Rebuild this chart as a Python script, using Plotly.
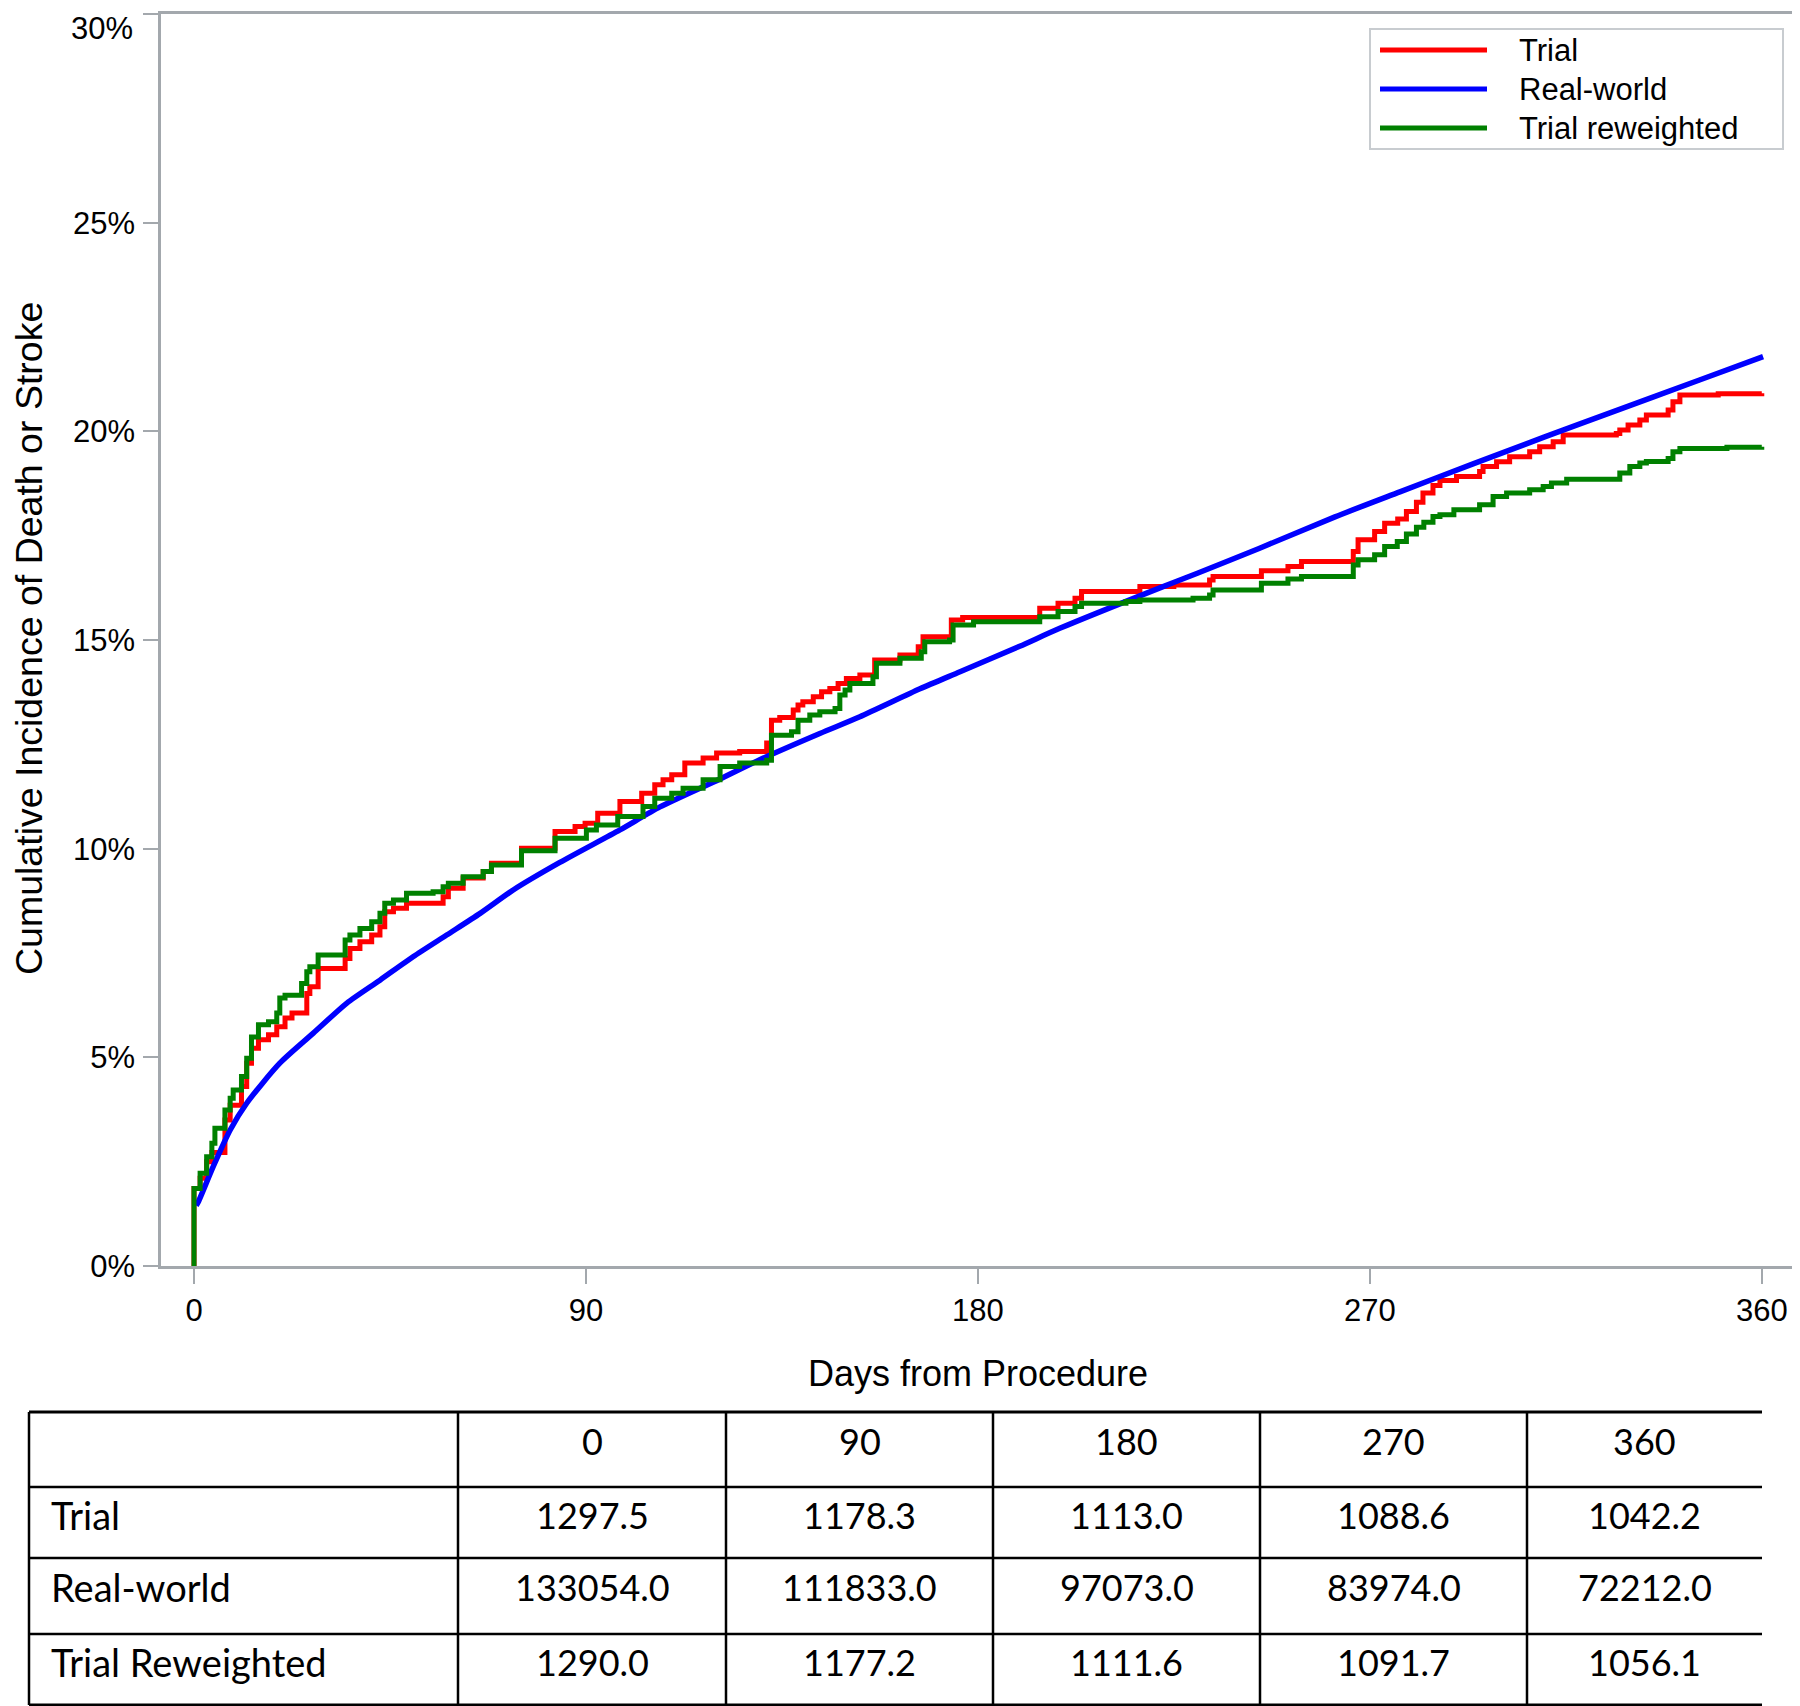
import plotly.graph_objects as go

# ---------------- data ----------------
trial_days = [0, 1.4, 2.9, 4.1, 7.1, 8.3, 10.9, 12.1, 13.2, 14.8, 17.1, 19.0, 20.9, 22.5, 25.9, 26.6,
              28.5, 34.7, 35.8, 38.1, 40.8, 42.7, 43.8, 45.8, 48.8, 57.2, 58.4, 61.8, 66.4, 68.3, 75.2,
              82.9, 87.5, 89.8, 92.7, 97.8, 102.8, 105.8, 107.7, 109.7, 112.7, 116.9, 120.0, 125.3,
              131.5, 132.6, 134.5, 137.6, 138.7, 139.8, 142.2, 144.1, 146.0, 147.9, 149.8, 152.9, 156.3,
              162.1, 166.3, 167.4, 173.9, 176.5, 194.2, 198.4, 202.3, 203.8, 217.2, 225.0, 233.2, 234.0,
              245.1, 251.2, 254.3, 266.2, 267.3, 271.1, 273.4, 276.4, 278.4, 280.7, 282.2, 284.5, 286.1,
              289.9, 295.2, 296.0, 299.1, 302.1, 306.7, 309.0, 312.1, 314.4, 326.6, 327.4, 329.3, 332.0,
              333.5, 338.5, 339.6, 341.2, 350.0, 360.0]
trial_pct = [1.86, 2.10, 2.50, 2.72, 3.50, 3.85, 4.30, 4.86, 5.22, 5.42, 5.54, 5.73, 5.94, 6.06, 6.53, 6.69,
             7.13, 7.37, 7.61, 7.77, 7.93, 8.13, 8.49, 8.57, 8.69, 8.85, 9.05, 9.30, 9.45, 9.65, 10.01,
             10.41, 10.53, 10.61, 10.85, 11.13, 11.33, 11.53, 11.65, 11.77, 12.05, 12.17, 12.29, 12.33,
             12.53, 13.08, 13.14, 13.32, 13.44, 13.52, 13.64, 13.76, 13.84, 13.96, 14.08, 14.16, 14.52,
             14.64, 14.84, 15.08, 15.48, 15.54, 15.76, 15.88, 16.00, 16.16, 16.28, 16.32, 16.44, 16.52,
             16.66, 16.76, 16.88, 17.12, 17.40, 17.60, 17.80, 17.90, 18.08, 18.30, 18.52, 18.70, 18.82,
             18.92, 19.04, 19.16, 19.27, 19.39, 19.51, 19.63, 19.75, 19.91, 19.95, 20.03, 20.15, 20.27,
             20.39, 20.51, 20.71, 20.87, 20.90, 20.91]

real_days = [0.5, 1.0, 4.4, 8.3, 12.1, 19.7, 27.4, 35.1, 42.7, 50.3, 58.0, 65.7, 73.3, 84.0, 97.8, 107.0,
             120.8, 129.9, 143.7, 152.9, 166.7, 175.9, 189.6, 198.8, 221.8, 230.4, 244.7, 262.0, 276.9,
             293.7, 310.0, 325.3, 345.7, 360.3]
real_pct = [1.45, 1.54, 2.38, 3.26, 3.90, 4.86, 5.58, 6.30, 6.85, 7.41, 7.93, 8.45, 9.01, 9.67, 10.45, 11.00,
            11.67, 12.13, 12.76, 13.16, 13.83, 14.24, 14.85, 15.28, 16.25, 16.60, 17.20, 17.95, 18.55,
            19.22, 19.86, 20.45, 21.23, 21.79]

rew_days = [0, 1.4, 2.9, 4.1, 4.8, 7.1, 8.3, 9.0, 10.9, 12.1, 13.2, 14.8, 17.1, 19.0, 19.7, 20.9, 24.7,
            25.9, 26.6, 28.5, 34.7, 35.8, 38.1, 40.8, 42.7, 43.8, 45.8, 48.8, 54.9, 57.2, 58.4, 61.8,
            66.4, 68.3, 75.2, 82.9, 90.1, 92.4, 97.3, 103.1, 105.8, 109.7, 112.3, 116.9, 120.8, 125.3,
            131.5, 132.6, 137.2, 138.7, 141.4, 143.7, 147.2, 148.3, 149.5, 150.6, 155.9, 156.7, 162.1,
            167.0, 167.8, 173.5, 174.3, 179.0, 194.2, 198.4, 202.3, 203.8, 214.0, 217.2, 229.4, 233.2,
            234.0, 245.1, 251.2, 254.3, 266.2, 267.3, 271.1, 273.4, 276.3, 278.4, 280.7, 282.4, 284.5,
            286.1, 289.3, 295.2, 298.3, 301.4, 306.7, 309.8, 311.7, 315.2, 327.4, 329.7, 332.0, 333.5,
            338.5, 339.6, 341.2, 352.0, 360.0]
rew_pct = [1.86, 2.22, 2.62, 2.94, 3.30, 3.74, 4.02, 4.22, 4.54, 4.98, 5.49, 5.78, 5.85, 6.06, 6.42, 6.49,
           6.77, 7.05, 7.17, 7.45, 7.81, 7.93, 8.09, 8.25, 8.45, 8.69, 8.77, 8.93, 8.97, 9.09, 9.17, 9.33,
           9.45, 9.61, 9.95, 10.25, 10.45, 10.57, 10.77, 11.01, 11.21, 11.33, 11.45, 11.65, 11.97, 12.05,
           12.12, 12.72, 12.80, 13.08, 13.20, 13.28, 13.36, 13.68, 13.80, 13.96, 14.12, 14.44, 14.56,
           14.72, 14.96, 15.00, 15.36, 15.44, 15.56, 15.68, 15.80, 15.88, 15.92, 15.96, 16.00, 16.08,
           16.20, 16.36, 16.46, 16.52, 16.80, 16.92, 17.04, 17.24, 17.36, 17.54, 17.70, 17.82, 17.96,
           18.00, 18.12, 18.24, 18.44, 18.52, 18.60, 18.68, 18.76, 18.85, 19.00, 19.16, 19.24, 19.28,
           19.35, 19.51, 19.59, 19.62, 19.63]

x_ticks = [0, 90, 180, 270, 360]
y_ticks = [0, 5, 10, 15, 20, 25, 30]
y_tick_labels = ["0%", "5%", "10%", "15%", "20%", "25%", "30%"]

series_names = ["Trial", "Real-world", "Trial reweighted"]
series_colors = ["#FF0000", "#0000FF", "#008000"]

risk_headers = ["0", "90", "180", "270", "360"]
risk_groups = ["Trial", "Real-world", "Trial Reweighted"]
risk_trial = ["1297.5", "1178.3", "1113.0", "1088.6", "1042.2"]
risk_real = ["133054.0", "111833.0", "97073.0", "83974.0", "72212.0"]
risk_rew = ["1290.0", "1177.2", "1111.6", "1091.7", "1056.1"]

# ---------------- layout geometry ----------------
# page coordinates of the reference; the html body adds an 8px margin
OFF = 8
W, H = 1800 - OFF, 1706 - OFF
PL, PR, PT, PB = 161 - OFF, 1794 - OFF, 14 - OFF, 1266 - OFF


def px(X):
    """page x (reference) -> paper x"""
    return (X - OFF - PL) / (PR - PL)


def py(Y):
    """page y (reference) -> paper y"""
    return (PB - (Y - OFF)) / (PB - PT)


AX = "#A3A8AD"
FONT = "Liberation Sans, Arial, sans-serif"
TFONT = "Lato, Open Sans, sans-serif"

fig = go.Figure()

fig.add_trace(go.Scatter(x=[0] + trial_days, y=[0] + trial_pct, mode="lines", name=series_names[0],
                         line=dict(color=series_colors[0], width=5, shape="hv")))
fig.add_trace(go.Scatter(x=real_days, y=real_pct, mode="lines", name=series_names[1],
                         line=dict(color=series_colors[1], width=5.5, shape="spline", smoothing=0.7)))
fig.add_trace(go.Scatter(x=[0] + rew_days, y=[0] + rew_pct, mode="lines", name=series_names[2],
                         line=dict(color=series_colors[2], width=5, shape="hv")))

shapes = []
annotations = []

# ---- legend box ----
shapes.append(dict(type="rect", xref="paper", yref="paper", x0=px(1370), x1=px(1783), y0=py(29), y1=py(149),
                   line=dict(color="#C8CCD0", width=2), fillcolor="white", layer="above"))
leg_y = [50, 89, 128]
for name, col, Y in zip(series_names, series_colors, leg_y):
    shapes.append(dict(type="line", xref="paper", yref="paper", x0=px(1380), x1=px(1487), y0=py(Y), y1=py(Y),
                       line=dict(color=col, width=5), layer="above"))
    annotations.append(dict(xref="paper", yref="paper", x=px(1517), y=py(Y), text=name, showarrow=False,
                            xanchor="left", yanchor="middle", font=dict(family=FONT, size=31, color="black")))

# ---- at-risk table ----
col_x = [29, 458, 726, 993, 1260, 1527, 1762]
row_y = [1412, 1487, 1558, 1634, 1705]
for i, Y in enumerate(row_y):
    shapes.append(dict(type="line", xref="paper", yref="paper", x0=px(29), x1=px(1762),
                       y0=py(Y), y1=py(Y), line=dict(color="black", width=3 if i in (0, 4) else 2.5)))
for X in col_x[:-1]:
    shapes.append(dict(type="line", xref="paper", yref="paper", x0=px(X), x1=px(X),
                       y0=py(1412), y1=py(1705), line=dict(color="black", width=2.5)))

col_cx = [(col_x[j + 1] + col_x[j + 2]) / 2 for j in range(5)]
for cx, h in zip(col_cx, risk_headers):
    annotations.append(dict(xref="paper", yref="paper", x=px(cx), y=py(1441), text=h, showarrow=False,
                            xanchor="center", yanchor="middle", font=dict(family=TFONT, size=36, color="black")))

rows = [risk_trial, risk_real, risk_rew]
row_cy = [1515, 1587, 1662]
for r, (g, vals) in enumerate(zip(risk_groups, rows)):
    annotations.append(dict(xref="paper", yref="paper", x=px(49), y=py(row_cy[r]), text=g, showarrow=False,
                            xanchor="left", yanchor="middle", font=dict(family=TFONT, size=38, color="black")))
    for cx, v in zip(col_cx, vals):
        annotations.append(dict(xref="paper", yref="paper", x=px(cx), y=py(row_cy[r]), text=v,
                                showarrow=False, xanchor="center", yanchor="middle",
                                font=dict(family=TFONT, size=36, color="black")))

# ---- top y tick label: kept inside the page instead of being clipped at the edge ----
annotations.append(dict(xref="paper", yref="y", x=px(135), y=y_ticks[-1], text=y_tick_labels[-1],
                        showarrow=False, xanchor="right", yanchor="top", yshift=5,
                        font=dict(family=FONT, size=31, color="black")))

# ---- axis titles ----
annotations.append(dict(xref="paper", yref="paper", x=px(978), y=py(1373), text="Days from Procedure",
                        showarrow=False, xanchor="center", yanchor="middle",
                        font=dict(family=FONT, size=36, color="black")))
annotations.append(dict(xref="paper", yref="paper", x=px(29), y=py(639),
                        text="Cumulative Incidence of Death or Stroke", textangle=-90,
                        showarrow=False, xanchor="center", yanchor="middle",
                        font=dict(family=FONT, size=37.5, color="black")))

fig.update_layout(
    width=W, height=H,
    margin=dict(l=PL, r=W - PR, t=PT, b=H - PB, pad=0, autoexpand=False),
    paper_bgcolor="white", plot_bgcolor="white",
    showlegend=False,
    shapes=shapes,
    annotations=annotations,
)

fig.update_xaxes(range=[-7.58, 367.4], tickvals=x_ticks, ticktext=[str(v) for v in x_ticks],
                 automargin=False,
                 showgrid=False, zeroline=False, showline=True, mirror=True, linecolor=AX, linewidth=2.5,
                 ticks="outside", ticklen=15, tickwidth=2, tickcolor=AX,
                 tickfont=dict(family=FONT, size=31, color="black"))
fig.update_yaxes(range=[0, 30], tickvals=y_ticks, ticktext=y_tick_labels[:-1] + [""],
                 automargin=False,
                 showgrid=False, zeroline=False, showline=True, mirror=True, linecolor=AX, linewidth=2.5,
                 ticks="outside", ticklen=15, tickwidth=2, tickcolor=AX, ticklabelstandoff=2,
                 ticklabeloverflow="allow",
                 tickfont=dict(family=FONT, size=31, color="black"))

fig.write_html("out.html")
